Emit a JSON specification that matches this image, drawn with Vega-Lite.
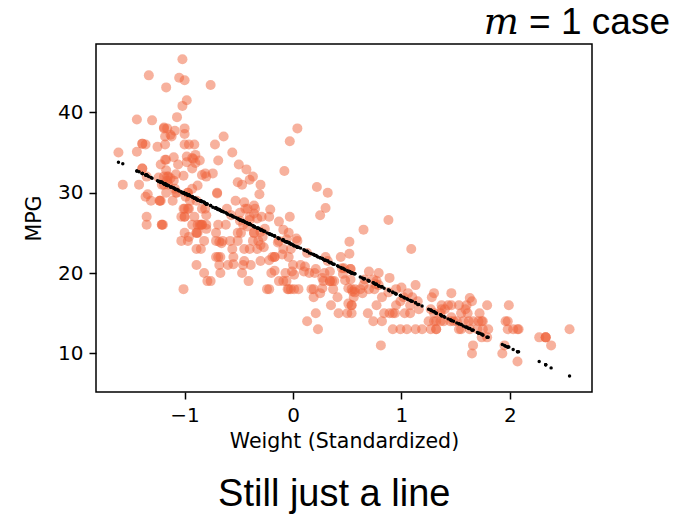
{
  "$schema": "https://vega.github.io/schema/vega-lite/v6.json",
  "padding": {"left": 23, "top": 3, "right": 0, "bottom": 0},
  "background": "white",
  "title": {"text": "Still just a line", "orient": "bottom", "anchor": "middle", "fontSize": 38, "font": "Liberation Sans", "fontWeight": "normal", "color": "#000", "offset": 24, "dx": -13},
  "config": {
    "view": {"stroke": "#000", "strokeWidth": 1.5},
    "axis": {"domain": false, "grid": false, "ticks": true, "tickColor": "#000", "tickSize": 7, "tickWidth": 1.5, "labelFont": "DejaVu Sans", "labelFontSize": 20, "labelColor": "#000", "labelPadding": 6, "titleFont": "DejaVu Sans", "titleFontSize": 20.5, "titleFontWeight": "normal", "titleColor": "#000", "format": "d"}
  },
  "datasets": {
    "cars": [
{"weight":0.62,"mpg":18,"fit":19.5},{"weight":0.84,"mpg":15,"fit":18.1},{"weight":0.54,"mpg":18,"fit":20.0},{"weight":0.54,"mpg":16,"fit":20.0},{"weight":0.56,"mpg":17,"fit":19.9},
{"weight":1.61,"mpg":15,"fit":13.2},{"weight":1.62,"mpg":14,"fit":13.1},{"weight":1.57,"mpg":14,"fit":13.4},{"weight":1.71,"mpg":14,"fit":12.5},{"weight":1.03,"mpg":15,"fit":16.9},
{"weight":0.69,"mpg":15,"fit":19.1},{"weight":0.74,"mpg":14,"fit":18.8},{"weight":0.92,"mpg":15,"fit":17.6},{"weight":0.13,"mpg":14,"fit":22.7},{"weight":-0.71,"mpg":24,"fit":28.1},
{"weight":-0.17,"mpg":22,"fit":24.6},{"weight":-0.24,"mpg":18,"fit":25.0},{"weight":-0.46,"mpg":21,"fit":26.5},{"weight":-1.0,"mpg":27,"fit":29.9},{"weight":-1.35,"mpg":26,"fit":32.2},
{"weight":-0.36,"mpg":25,"fit":25.8},{"weight":-0.65,"mpg":24,"fit":27.7},{"weight":-0.71,"mpg":25,"fit":28.1},{"weight":-0.88,"mpg":26,"fit":29.1},{"weight":-0.39,"mpg":21,"fit":26.0},
{"weight":1.93,"mpg":10,"fit":11.1},{"weight":1.65,"mpg":10,"fit":12.9},{"weight":1.66,"mpg":11,"fit":12.9},{"weight":2.07,"mpg":9,"fit":10.2},{"weight":-1.0,"mpg":27,"fit":29.9},
{"weight":-0.84,"mpg":28,"fit":28.9},{"weight":-0.88,"mpg":25,"fit":29.1},{"weight":-0.41,"mpg":19,"fit":26.1},{"weight":0.54,"mpg":16,"fit":20.0},{"weight":0.41,"mpg":17,"fit":20.9},
{"weight":0.38,"mpg":19,"fit":21.1},{"weight":0.37,"mpg":18,"fit":21.1},{"weight":1.45,"mpg":14,"fit":14.2},{"weight":1.75,"mpg":14,"fit":12.3},{"weight":1.39,"mpg":14,"fit":14.6},
{"weight":1.32,"mpg":14,"fit":15.0},{"weight":2.33,"mpg":12,"fit":8.6},{"weight":2.08,"mpg":13,"fit":10.2},{"weight":2.55,"mpg":13,"fit":7.2},{"weight":-0.02,"mpg":18,"fit":23.6},
{"weight":-0.67,"mpg":22,"fit":27.8},{"weight":0.36,"mpg":19,"fit":21.2},{"weight":0.19,"mpg":18,"fit":22.3},{"weight":-0.89,"mpg":23,"fit":29.2},{"weight":-1.01,"mpg":28,"fit":30.0},
{"weight":-1.07,"mpg":30,"fit":30.4},{"weight":-1.08,"mpg":30,"fit":30.4},{"weight":-1.42,"mpg":31,"fit":32.6},{"weight":-1.61,"mpg":35,"fit":33.8},{"weight":-1.35,"mpg":27,"fit":32.2},
{"weight":-1.21,"mpg":26,"fit":31.3},{"weight":-0.82,"mpg":24,"fit":28.8},{"weight":-1.0,"mpg":25,"fit":29.9},{"weight":-0.85,"mpg":23,"fit":29.0},{"weight":-0.67,"mpg":20,"fit":27.8},
{"weight":-0.89,"mpg":21,"fit":29.2},{"weight":1.53,"mpg":13,"fit":13.7},{"weight":1.66,"mpg":14,"fit":12.9},{"weight":1.36,"mpg":15,"fit":14.8},{"weight":1.36,"mpg":14,"fit":14.8},
{"weight":0.82,"mpg":17,"fit":18.3},{"weight":1.95,"mpg":11,"fit":11.0},{"weight":1.8,"mpg":13,"fit":12.0},{"weight":1.74,"mpg":12,"fit":12.4},{"weight":1.7,"mpg":13,"fit":12.6},
{"weight":-0.76,"mpg":19,"fit":28.4},{"weight":1.08,"mpg":15,"fit":16.6},{"weight":1.32,"mpg":13,"fit":15.0},{"weight":1.55,"mpg":13,"fit":13.6},{"weight":1.3,"mpg":14,"fit":15.2},
{"weight":-0.05,"mpg":18,"fit":23.8},{"weight":-0.55,"mpg":22,"fit":27.0},{"weight":0.0,"mpg":21,"fit":23.5},{"weight":-0.93,"mpg":26,"fit":29.5},{"weight":-0.69,"mpg":22,"fit":27.9},
{"weight":-0.81,"mpg":28,"fit":28.7},{"weight":-0.56,"mpg":23,"fit":27.1},{"weight":-0.96,"mpg":28,"fit":29.7},{"weight":-1.03,"mpg":27,"fit":30.1},{"weight":1.32,"mpg":13,"fit":15.0},
{"weight":0.82,"mpg":14,"fit":18.3},{"weight":1.19,"mpg":13,"fit":15.9},{"weight":1.25,"mpg":14,"fit":15.5},{"weight":0.94,"mpg":15,"fit":17.5},{"weight":2.33,"mpg":12,"fit":8.6},
{"weight":1.75,"mpg":13,"fit":12.3},{"weight":1.63,"mpg":13,"fit":13.1},{"weight":1.48,"mpg":14,"fit":14.0},{"weight":2.07,"mpg":13,"fit":10.2},{"weight":2.33,"mpg":12,"fit":8.6},
{"weight":0.99,"mpg":13,"fit":17.2},{"weight":0.17,"mpg":18,"fit":22.4},{"weight":0.35,"mpg":16,"fit":21.3},{"weight":-0.04,"mpg":18,"fit":23.8},{"weight":0.05,"mpg":18,"fit":23.2},
{"weight":-0.09,"mpg":23,"fit":24.1},{"weight":-1.21,"mpg":26,"fit":31.3},{"weight":2.38,"mpg":11,"fit":8.2},{"weight":2.27,"mpg":12,"fit":9.0},{"weight":1.98,"mpg":13,"fit":10.8},
{"weight":1.79,"mpg":12,"fit":12.0},{"weight":-0.22,"mpg":18,"fit":24.9},{"weight":-0.82,"mpg":20,"fit":28.8},{"weight":-0.68,"mpg":21,"fit":27.9},{"weight":-0.71,"mpg":22,"fit":28.1},
{"weight":-1.01,"mpg":18,"fit":30.0},{"weight":-0.79,"mpg":19,"fit":28.6},{"weight":-0.6,"mpg":21,"fit":27.3},{"weight":-0.84,"mpg":26,"fit":28.9},{"weight":1.3,"mpg":15,"fit":15.2},
{"weight":1.53,"mpg":16,"fit":13.7},{"weight":-1.31,"mpg":29,"fit":31.9},{"weight":-0.97,"mpg":24,"fit":29.7},{"weight":-0.47,"mpg":20,"fit":26.5},{"weight":-0.13,"mpg":19,"fit":24.3},
{"weight":0.5,"mpg":15,"fit":20.3},{"weight":-0.37,"mpg":24,"fit":25.9},{"weight":-0.2,"mpg":20,"fit":24.8},{"weight":0.81,"mpg":11,"fit":18.3},{"weight":0.15,"mpg":20,"fit":22.5},
{"weight":-0.09,"mpg":19,"fit":24.1},{"weight":0.42,"mpg":15,"fit":20.8},{"weight":-1.21,"mpg":31,"fit":31.3},{"weight":-0.62,"mpg":26,"fit":27.5},{"weight":-1.35,"mpg":32,"fit":32.2},
{"weight":-0.51,"mpg":25,"fit":26.8},{"weight":0.95,"mpg":16,"fit":17.4},{"weight":0.77,"mpg":16,"fit":18.6},{"weight":0.75,"mpg":18,"fit":18.7},{"weight":1.37,"mpg":16,"fit":14.7},
{"weight":2.03,"mpg":13,"fit":10.5},{"weight":1.74,"mpg":14,"fit":12.4},{"weight":1.96,"mpg":14,"fit":10.9},{"weight":1.51,"mpg":14,"fit":13.8},{"weight":-0.89,"mpg":29,"fit":29.2},
{"weight":-1.2,"mpg":26,"fit":31.2},{"weight":-0.8,"mpg":26,"fit":28.6},{"weight":-1.57,"mpg":31,"fit":33.6},{"weight":-1.15,"mpg":32,"fit":30.9},{"weight":-1.0,"mpg":28,"fit":29.9},
{"weight":-1.03,"mpg":24,"fit":30.1},{"weight":-0.86,"mpg":26,"fit":29.0},{"weight":-0.58,"mpg":24,"fit":27.2},{"weight":-0.69,"mpg":26,"fit":27.9},{"weight":-1.15,"mpg":31,"fit":30.9},
{"weight":0.34,"mpg":19,"fit":21.3},{"weight":0.57,"mpg":18,"fit":19.9},{"weight":0.54,"mpg":15,"fit":20.0},{"weight":0.21,"mpg":15,"fit":22.2},{"weight":1.99,"mpg":16,"fit":10.8},
{"weight":1.72,"mpg":15,"fit":12.5},{"weight":1.79,"mpg":16,"fit":12.0},{"weight":1.98,"mpg":14,"fit":10.8},{"weight":1.1,"mpg":17,"fit":16.5},{"weight":1.08,"mpg":16,"fit":16.6},
{"weight":0.89,"mpg":15,"fit":17.8},{"weight":0.95,"mpg":18,"fit":17.4},{"weight":0.07,"mpg":21,"fit":23.1},{"weight":0.29,"mpg":20,"fit":21.6},{"weight":0.23,"mpg":13,"fit":22.0},
{"weight":-0.95,"mpg":29,"fit":29.6},{"weight":-0.4,"mpg":23,"fit":26.1},{"weight":-0.07,"mpg":20,"fit":23.9},{"weight":-0.45,"mpg":23,"fit":26.4},{"weight":-0.32,"mpg":24,"fit":25.6},
{"weight":-0.89,"mpg":25,"fit":29.2},{"weight":-0.51,"mpg":24,"fit":26.8},{"weight":0.01,"mpg":18,"fit":23.4},{"weight":-1.23,"mpg":29,"fit":31.4},{"weight":0.28,"mpg":19,"fit":21.7},
{"weight":-0.33,"mpg":23,"fit":25.6},{"weight":-0.02,"mpg":23,"fit":23.6},{"weight":-0.04,"mpg":22,"fit":23.8},{"weight":-0.36,"mpg":25,"fit":25.8},{"weight":-1.39,"mpg":33,"fit":32.4},
{"weight":-0.61,"mpg":28,"fit":27.4},{"weight":-0.89,"mpg":25,"fit":29.2},{"weight":-0.48,"mpg":25,"fit":26.6},{"weight":-0.85,"mpg":26,"fit":29.0},{"weight":-0.91,"mpg":27,"fit":29.3},
{"weight":1.46,"mpg":17.5,"fit":14.1},{"weight":1.43,"mpg":16,"fit":14.3},{"weight":1.16,"mpg":15.5,"fit":16.1},{"weight":1.46,"mpg":14.5,"fit":14.1},{"weight":0.3,"mpg":22,"fit":21.6},
{"weight":0.44,"mpg":22,"fit":20.7},{"weight":0.04,"mpg":24,"fit":23.2},{"weight":0.13,"mpg":22.5,"fit":22.7},{"weight":-1.11,"mpg":29,"fit":30.6},{"weight":-0.96,"mpg":24.5,"fit":29.7},
{"weight":-1.23,"mpg":29,"fit":31.4},{"weight":-1.39,"mpg":33,"fit":32.4},{"weight":0.79,"mpg":20,"fit":18.4},{"weight":0.7,"mpg":18,"fit":19.0},{"weight":0.79,"mpg":18.5,"fit":18.4},
{"weight":0.25,"mpg":17.5,"fit":21.9},{"weight":-1.36,"mpg":29.5,"fit":32.2},{"weight":-1.16,"mpg":32,"fit":30.9},{"weight":-0.97,"mpg":28,"fit":29.7},{"weight":-0.49,"mpg":26.5,"fit":26.6},
{"weight":0.2,"mpg":20,"fit":22.2},{"weight":1.13,"mpg":13,"fit":16.3},{"weight":0.34,"mpg":19,"fit":21.3},{"weight":-0.06,"mpg":19,"fit":23.9},{"weight":0.99,"mpg":16.5,"fit":17.2},
{"weight":1.65,"mpg":16.5,"fit":12.9},{"weight":1.27,"mpg":13,"fit":15.4},{"weight":1.05,"mpg":13,"fit":16.8},{"weight":0.92,"mpg":13,"fit":17.6},{"weight":-1.1,"mpg":31.5,"fit":30.6},
{"weight":-0.97,"mpg":30,"fit":29.7},{"weight":-1.36,"mpg":36,"fit":32.2},{"weight":-0.8,"mpg":25.5,"fit":28.6},{"weight":-1.22,"mpg":33.5,"fit":31.3},{"weight":1.06,"mpg":17.5,"fit":16.7},
{"weight":1.28,"mpg":17,"fit":15.3},{"weight":1.37,"mpg":15.5,"fit":14.7},{"weight":1.55,"mpg":15,"fit":13.6},{"weight":0.64,"mpg":17.5,"fit":19.4},{"weight":0.53,"mpg":20.5,"fit":20.1},
{"weight":0.77,"mpg":19,"fit":18.6},{"weight":0.65,"mpg":18.5,"fit":19.3},{"weight":1.46,"mpg":16,"fit":14.1},{"weight":1.4,"mpg":15.5,"fit":14.5},{"weight":1.59,"mpg":15.5,"fit":13.3},
{"weight":1.6,"mpg":16,"fit":13.3},{"weight":-1.22,"mpg":29,"fit":31.3},{"weight":-0.28,"mpg":24.5,"fit":25.3},{"weight":-0.84,"mpg":26,"fit":28.9},{"weight":-0.26,"mpg":25.5,"fit":25.2},
{"weight":-1.09,"mpg":30.5,"fit":30.5},{"weight":-1.06,"mpg":33.5,"fit":30.3},{"weight":-1.17,"mpg":30,"fit":31.0},{"weight":-0.93,"mpg":30.5,"fit":29.5},{"weight":-0.19,"mpg":22,"fit":24.7},
{"weight":-0.45,"mpg":21.5,"fit":26.4},{"weight":-0.3,"mpg":21.5,"fit":25.4},{"weight":-1.17,"mpg":43.1,"fit":31.0},{"weight":-1.39,"mpg":36.1,"fit":32.4},{"weight":-1.17,"mpg":32.8,"fit":31.0},
{"weight":-1.07,"mpg":39.4,"fit":30.4},{"weight":-1.39,"mpg":36.1,"fit":32.4},{"weight":0.46,"mpg":19.9,"fit":20.6},{"weight":0.89,"mpg":19.4,"fit":17.8},{"weight":0.7,"mpg":20.2,"fit":19.0},
{"weight":0.66,"mpg":19.2,"fit":19.3},{"weight":0.21,"mpg":20.5,"fit":22.2},{"weight":-0.01,"mpg":20.2,"fit":23.6},{"weight":-0.3,"mpg":25.1,"fit":25.4},{"weight":0.53,"mpg":20.5,"fit":20.1},
{"weight":0.27,"mpg":19.4,"fit":21.8},{"weight":0.47,"mpg":20.6,"fit":20.5},{"weight":0.11,"mpg":20.8,"fit":22.8},{"weight":0.76,"mpg":18.6,"fit":18.6},{"weight":0.51,"mpg":18.1,"fit":20.2},
{"weight":0.53,"mpg":19.2,"fit":20.1},{"weight":0.55,"mpg":17.7,"fit":20.0},{"weight":0.27,"mpg":18.1,"fit":21.8},{"weight":1.3,"mpg":17.5,"fit":15.2},{"weight":-0.97,"mpg":30,"fit":29.7},
{"weight":-0.49,"mpg":27.5,"fit":26.6},{"weight":-0.8,"mpg":27.2,"fit":28.6},{"weight":-0.88,"mpg":30.9,"fit":29.1},{"weight":-0.55,"mpg":21.1,"fit":27.0},{"weight":-0.27,"mpg":23.2,"fit":25.2},
{"weight":-0.14,"mpg":23.8,"fit":24.4},{"weight":-0.68,"mpg":23.9,"fit":27.9},{"weight":-0.17,"mpg":20.3,"fit":24.6},{"weight":0.19,"mpg":17,"fit":22.3},{"weight":-0.22,"mpg":21.6,"fit":24.9},
{"weight":0.51,"mpg":16.2,"fit":20.2},{"weight":-1.16,"mpg":31.5,"fit":30.9},{"weight":-0.99,"mpg":29.5,"fit":29.9},{"weight":0.32,"mpg":21.5,"fit":21.5},{"weight":0.01,"mpg":19.8,"fit":23.4},
{"weight":-0.1,"mpg":22.3,"fit":24.1},{"weight":0.34,"mpg":20.2,"fit":21.3},{"weight":0.45,"mpg":20.6,"fit":20.6},{"weight":1.02,"mpg":17,"fit":17.0},{"weight":0.88,"mpg":17.6,"fit":17.9},
{"weight":1.15,"mpg":16.5,"fit":16.1},{"weight":1.0,"mpg":18.2,"fit":17.1},{"weight":1.63,"mpg":16.9,"fit":13.1},{"weight":1.27,"mpg":15.5,"fit":15.4},{"weight":0.74,"mpg":19.2,"fit":18.8},
{"weight":1.13,"mpg":18.5,"fit":16.3},{"weight":-1.24,"mpg":31.9,"fit":31.4},{"weight":-1.18,"mpg":34.1,"fit":31.1},{"weight":-1.25,"mpg":35.7,"fit":31.5},{"weight":-0.36,"mpg":27.4,"fit":25.8},
{"weight":0.65,"mpg":25.4,"fit":19.3},{"weight":1.09,"mpg":23,"fit":16.5},{"weight":0.25,"mpg":27.2,"fit":21.9},{"weight":0.52,"mpg":23.9,"fit":20.2},{"weight":-0.92,"mpg":34.2,"fit":29.4},
{"weight":-0.98,"mpg":34.5,"fit":29.8},{"weight":-1.13,"mpg":31.8,"fit":30.7},{"weight":-1.0,"mpg":37.3,"fit":29.9},{"weight":-0.36,"mpg":28.4,"fit":25.8},{"weight":-0.45,"mpg":28.8,"fit":26.4},
{"weight":-0.33,"mpg":26.8,"fit":25.6},{"weight":-0.5,"mpg":33.5,"fit":26.7},{"weight":-0.98,"mpg":41.5,"fit":29.8},{"weight":-1.19,"mpg":38.1,"fit":31.1},{"weight":-1.01,"mpg":32.1,"fit":30.0},
{"weight":-1.13,"mpg":37.2,"fit":30.7},{"weight":-0.35,"mpg":28,"fit":25.7},{"weight":-0.13,"mpg":26.4,"fit":24.3},{"weight":0.03,"mpg":24.3,"fit":23.3},{"weight":0.48,"mpg":19.1,"fit":20.4},
{"weight":-0.93,"mpg":34.3,"fit":29.5},{"weight":-0.31,"mpg":29.8,"fit":25.5},{"weight":-0.51,"mpg":31.3,"fit":26.8},{"weight":-0.64,"mpg":37,"fit":27.6},{"weight":-0.84,"mpg":32.2,"fit":28.9},
{"weight":-1.02,"mpg":46.6,"fit":30.0},{"weight":-0.21,"mpg":27.9,"fit":24.8},{"weight":-1.02,"mpg":40.8,"fit":30.0},{"weight":-1.05,"mpg":44.3,"fit":30.2},{"weight":-0.76,"mpg":43.4,"fit":28.4},
{"weight":-0.03,"mpg":36.4,"fit":23.7},{"weight":0.32,"mpg":30,"fit":21.5},{"weight":-1.33,"mpg":44.6,"fit":32.0},{"weight":-0.98,"mpg":33.8,"fit":29.8},{"weight":-1.34,"mpg":29.8,"fit":32.1},
{"weight":-0.08,"mpg":32.7,"fit":24.0},{"weight":-0.66,"mpg":23.7,"fit":27.7},{"weight":-0.56,"mpg":35,"fit":27.1},{"weight":-0.81,"mpg":32.4,"fit":28.7},{"weight":-0.57,"mpg":27.2,"fit":27.2},
{"weight":-0.4,"mpg":26.6,"fit":26.1},{"weight":-0.42,"mpg":25.8,"fit":26.2},{"weight":-0.3,"mpg":23.5,"fit":25.4},{"weight":-0.7,"mpg":30,"fit":28.0},{"weight":-1.44,"mpg":39.1,"fit":32.7},
{"weight":-1.3,"mpg":39,"fit":31.8},{"weight":-1.44,"mpg":35.1,"fit":32.7},{"weight":-1.08,"mpg":32.3,"fit":30.4},{"weight":-1.18,"mpg":37,"fit":31.1},{"weight":-1.09,"mpg":37.7,"fit":30.5},
{"weight":-1.17,"mpg":34.1,"fit":31.0},{"weight":-0.9,"mpg":34.7,"fit":29.3},{"weight":-1.1,"mpg":34.4,"fit":30.6},{"weight":-0.7,"mpg":29.9,"fit":28.0},{"weight":-0.93,"mpg":33,"fit":29.5},
{"weight":-0.9,"mpg":33.7,"fit":29.3},{"weight":-0.74,"mpg":32.4,"fit":28.2},{"weight":-0.43,"mpg":32.9,"fit":26.3},{"weight":-0.4,"mpg":31.6,"fit":26.1},{"weight":0.3,"mpg":28.1,"fit":21.6},
{"weight":0.22,"mpg":30.7,"fit":22.1},{"weight":-0.09,"mpg":25.4,"fit":24.1},{"weight":-0.06,"mpg":24.2,"fit":23.9},{"weight":0.52,"mpg":22.4,"fit":20.2},{"weight":0.88,"mpg":26.6,"fit":17.9},
{"weight":0.1,"mpg":20.2,"fit":22.9},{"weight":0.57,"mpg":17.6,"fit":19.9},{"weight":-0.44,"mpg":28,"fit":26.3},{"weight":-0.4,"mpg":27,"fit":26.1},{"weight":-0.69,"mpg":34,"fit":27.9},
{"weight":-0.47,"mpg":31,"fit":26.5},{"weight":-0.53,"mpg":29,"fit":26.9},{"weight":-0.29,"mpg":27,"fit":25.4},{"weight":-0.13,"mpg":24,"fit":24.3},{"weight":-1.18,"mpg":36,"fit":31.1},
{"weight":-1.12,"mpg":37,"fit":30.7},{"weight":-1.19,"mpg":31,"fit":31.1},{"weight":-1.0,"mpg":38,"fit":29.9},{"weight":-1.0,"mpg":36,"fit":29.9},{"weight":-0.96,"mpg":36,"fit":29.7},
{"weight":-0.91,"mpg":36,"fit":29.3},{"weight":-0.86,"mpg":34,"fit":29.0},{"weight":-1.19,"mpg":38,"fit":31.1},{"weight":-1.19,"mpg":32,"fit":31.1},{"weight":-1.16,"mpg":38,"fit":30.9},
{"weight":-0.04,"mpg":25,"fit":23.8},{"weight":0.04,"mpg":38,"fit":23.2},{"weight":-0.46,"mpg":26,"fit":26.5},{"weight":-0.17,"mpg":22,"fit":24.6},{"weight":-0.37,"mpg":32,"fit":25.9},
{"weight":-0.72,"mpg":36,"fit":28.1},{"weight":-0.03,"mpg":27,"fit":23.7},{"weight":-0.22,"mpg":27,"fit":24.9},{"weight":-1.0,"mpg":44,"fit":29.9},{"weight":-0.8,"mpg":32,"fit":28.6},
{"weight":-0.42,"mpg":28,"fit":26.2},{"weight":-0.3,"mpg":31,"fit":25.4}
    ]
  },
  "vconcat": [
    {
      "width": 496,
      "height": 348,
      "title": {"text": "𝑚 = 1 case", "anchor": "end", "dx": 78, "fontSize": 37, "font": "Liberation Sans, DejaVu Serif", "fontWeight": "normal", "color": "#000", "offset": 2},
      "data": {"name": "cars"},
      "layer": [
        {
          "mark": {"type": "circle", "size": 100, "color": "#f0643c", "opacity": 0.5},
          "encoding": {
            "x": {"field": "weight", "type": "quantitative", "title": "Weight (Standardized)", "scale": {"domain": [-1.817, 2.757], "nice": false, "zero": false}, "axis": {"values": [-1, 0, 1, 2], "titlePadding": 6}},
            "y": {"field": "mpg", "type": "quantitative", "title": "MPG", "scale": {"domain": [5.2, 48.5], "nice": false, "zero": false}, "axis": {"values": [10, 20, 30, 40], "titlePadding": 13}}
          }
        },
        {
          "mark": {"type": "circle", "size": 12, "color": "#000", "opacity": 1},
          "encoding": {
            "x": {"field": "weight", "type": "quantitative"},
            "y": {"field": "fit", "type": "quantitative"}
          }
        }
      ]
    }
  ]
}
